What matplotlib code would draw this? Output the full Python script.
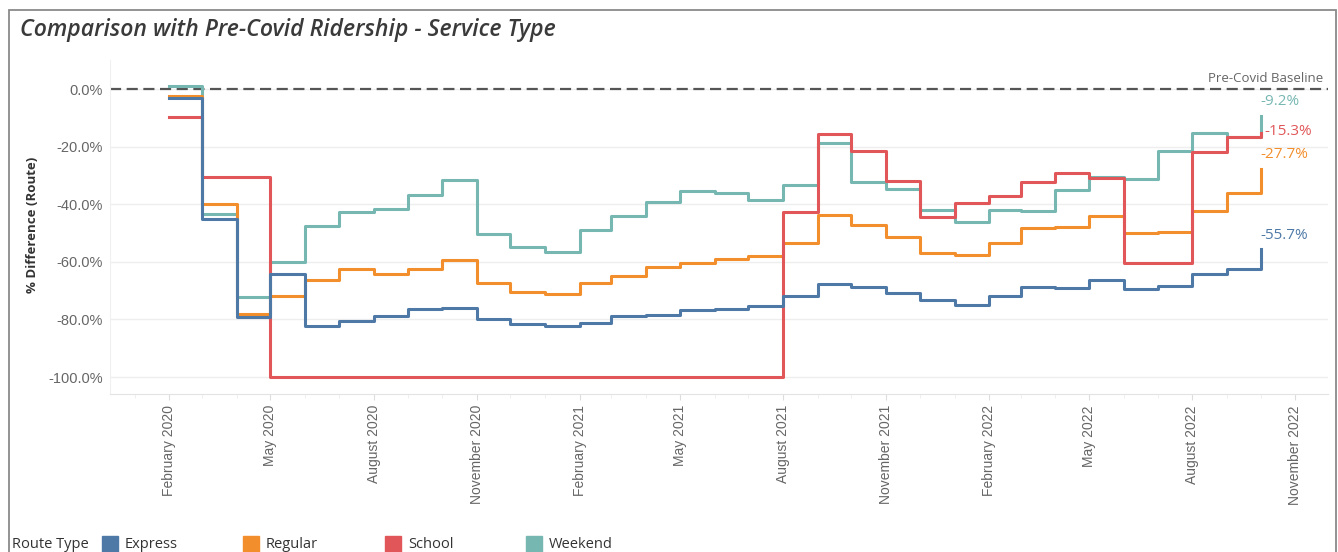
import numpy as np
import pandas as pd
import matplotlib
matplotlib.use("Agg")
import matplotlib.pyplot as plt
import matplotlib.dates as mdates
from matplotlib.patches import Rectangle


months = pd.date_range("2020-02-01", periods=33, freq="MS")

express = [-3.0, -45.2, -79.0, -64.3, -82.3, -80.6, -78.7, -76.4, -76.2, -80.0, -81.7,
           -82.4, -81.3, -78.9, -78.3, -76.6, -76.3, -75.5, -71.8, -67.6, -68.9, -70.9,
           -73.3, -75.0, -72.0, -68.6, -69.0, -66.3, -69.4, -68.3, -64.1, -62.5, -55.7]
regular = [-2.4, -40.0, -78.2, -71.9, -66.3, -62.6, -64.2, -62.4, -59.4, -67.5, -70.4,
           -71.2, -67.2, -64.8, -61.7, -60.5, -58.9, -57.9, -53.6, -43.8, -47.1, -51.3,
           -56.8, -57.6, -53.5, -48.1, -47.9, -44.2, -49.9, -49.5, -42.2, -36.2, -27.7]
school = [-9.8, -30.7, -30.7] + [-100.0] * 15 + \
         [-42.8, -15.6, -21.4, -31.8, -44.6, -39.5, -37.2, -32.2, -29.1, -30.8, -60.3,
          -60.3, -22.0, -16.8, -15.3]
weekend = [1.2, -43.4, -72.1, -60.0, -47.5, -42.8, -41.6, -36.8, -31.6, -50.4, -54.7,
           -56.5, -49.0, -44.0, -39.2, -35.3, -36.2, -38.4, -33.3, -18.6, -32.2, -34.8,
           -42.0, -46.1, -42.0, -42.4, -35.1, -30.4, -31.3, -21.4, -15.4, -16.8, -9.2]

route_types = ["Express", "Regular", "School", "Weekend"]
colors = {"Express": "#4e79a7", "Regular": "#f28e2b", "School": "#e15759", "Weekend": "#76b7b2"}
series = {"Express": express, "Regular": regular, "School": school, "Weekend": weekend}

W, H = 1338, 552
fig = plt.figure(figsize=(W / 100, H / 100), dpi=100)


def fx(x):
    return x / W


def fy(y):
    return 1 - y / H


ax = fig.add_axes([fx(110), fy(394), fx(1328) - fx(110), fy(60) - fy(394)])

# draw weekend first so express ends up on top
for name in ["Weekend", "Regular", "School", "Express"]:
    ax.step(months, series[name], where="post", color=colors[name], lw=2.2, zorder=3)

ax.axhline(0, color="#555555", lw=1.6, ls=(0, (5, 2.5)), zorder=2)
ax.annotate("Pre-Covid Baseline", xy=(1, 0), xycoords=("axes fraction", "data"),
            xytext=(-5, 11), textcoords="offset pixels", ha="right", va="center",
            fontsize=9.5, color="#666666", family="Open Sans")

# end labels
offsets = {"Weekend": (0, 14), "School": (4, 2), "Regular": (0, 14), "Express": (0, 14)}
for name in route_types:
    v = series[name][-1]
    ax.annotate(f"{v:.1f}%", xy=(months[-1], v), xytext=offsets[name],
                textcoords="offset pixels", ha="left", va="center",
                fontsize=11, color=colors[name], family="Open Sans")

ax.set_ylim(-105.9, 10.1)
ax.set_xlim(pd.Timestamp("2019-12-10"), pd.Timestamp("2022-11-30"))
ax.set_yticks([0, -20, -40, -60, -80, -100])
ax.set_yticklabels([f"{t:.1f}%" for t in [0, -20, -40, -60, -80, -100]],
                   family="Liberation Sans", fontsize=10.5, color="#666666")
ax.tick_params(axis="y", length=0, pad=5)

ax.xaxis.set_major_locator(mdates.MonthLocator(bymonth=[2, 5, 8, 11]))
ax.xaxis.set_minor_locator(mdates.MonthLocator())
ax.xaxis.set_major_formatter(mdates.DateFormatter("%B %Y"))
for lab in ax.get_xticklabels():
    lab.set_rotation(90)
    lab.set_family("Liberation Sans")
    lab.set_fontsize(10)
    lab.set_color("#666666")
    lab.set_va("top")
    lab.set_ha("center")
ax.tick_params(axis="x", which="major", length=4, color="#dddddd", pad=4)
ax.tick_params(axis="x", which="minor", length=3, color="#ececec")

ax.grid(axis="y", color="#eeeeee", lw=1)
ax.set_axisbelow(True)
for s in ["top", "right"]:
    ax.spines[s].set_visible(False)
ax.spines["bottom"].set_color("#e3e3e3")
ax.spines["left"].set_color("#f0f0f0")

fig.text(fx(33), fy(225), "% Difference (Route)", rotation=90, ha="center", va="center",
         fontsize=9.5, fontweight="bold", color="#333333", family="Open Sans")

fig.text(fx(20), fy(30), "Comparison with Pre-Covid Ridership - Service Type",
         ha="left", va="center", fontsize=16.6, style="italic", color="#3a3a3a",
         family="Open Sans", fontweight="semibold")

# frame round the dashboard
fig.add_artist(Rectangle((fx(9), fy(560)), fx(1336) - fx(9), fy(10) - fy(560),
                         transform=fig.transFigure, fill=False, edgecolor="#8a8a8a",
                         lw=1.3, clip_on=False))

# legend
fig.text(fx(12), fy(545), "Route Type", ha="left", va="center", fontsize=10.5,
         color="#333333", family="Open Sans")
sq_x = [102, 243, 385, 526]
for name, x in zip(route_types, sq_x):
    fig.add_artist(Rectangle((fx(x), fy(553)), fx(16), 17 / H, transform=fig.transFigure,
                             color=colors[name], clip_on=False))
    fig.text(fx(x + 23), fy(545), name, ha="left", va="center", fontsize=10.5,
             color="#333333", family="Open Sans")

fig.savefig("out.png", dpi=100)
